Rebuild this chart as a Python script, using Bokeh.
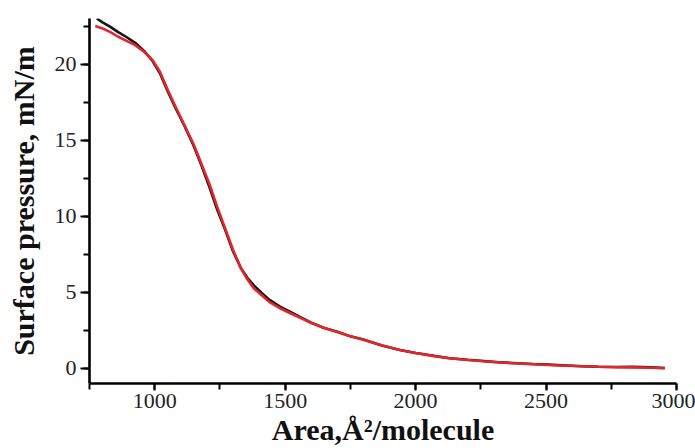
from bokeh.plotting import figure
from bokeh.models import Range1d, SingleIntervalTicker
from bokeh.embed import file_html
from bokeh.resources import INLINE

# --- data ---
area_black = [778, 800, 830, 860, 890, 925, 960, 990, 1020, 1050, 1080, 1115, 1150,
              1180, 1210, 1240, 1270, 1300, 1330, 1355, 1380, 1410, 1440, 1480, 1520,
              1560, 1600, 1650, 1700, 1750, 1800, 1870, 1940, 2000, 2070, 2130, 2200,
              2260, 2320, 2390, 2450, 2510, 2580, 2640, 2700, 2770, 2830, 2900, 2955]
pressure_black = [23.0, 22.75, 22.45, 22.1, 21.8, 21.4, 20.85, 20.25, 19.4, 18.2, 17.1,
                  15.9, 14.6, 13.3, 11.9, 10.4, 9.1, 7.7, 6.6, 5.95, 5.45, 4.95, 4.5,
                  4.05, 3.7, 3.35, 3.0, 2.65, 2.4, 2.1, 1.9, 1.5, 1.2, 1.0, 0.82, 0.66,
                  0.56, 0.48, 0.4, 0.33, 0.28, 0.24, 0.18, 0.13, 0.1, 0.08, 0.1, 0.06, 0.02]

area_red = [772, 800, 830, 860, 890, 925, 960, 990, 1020, 1050, 1080, 1115, 1150,
            1180, 1210, 1240, 1270, 1300, 1330, 1355, 1380, 1410, 1440, 1480, 1520,
            1560, 1600, 1650, 1700, 1750, 1800, 1870, 1940, 2000, 2070, 2130, 2200,
            2260, 2320, 2390, 2450, 2510, 2580, 2640, 2700, 2770, 2830, 2900, 2955]
pressure_red = [22.5, 22.35, 22.1, 21.8, 21.55, 21.25, 20.8, 20.3, 19.5, 18.3, 17.2,
                15.95, 14.7, 13.4, 12.1, 10.6, 9.2, 7.8, 6.6, 5.85, 5.25, 4.8, 4.35,
                3.95, 3.62, 3.3, 2.98, 2.65, 2.38, 2.1, 1.88, 1.52, 1.2, 1.0, 0.8, 0.66,
                0.55, 0.46, 0.38, 0.32, 0.27, 0.22, 0.17, 0.13, 0.1, 0.07, 0.06, 0.04, 0.0]

x_label = "Area,Å²/molecule"
y_label = "Surface pressure, mN/m"

FONT = "Liberation Serif"

p = figure(width=695, height=448, output_backend="svg", toolbar_location=None,
           x_range=Range1d(750, 3000), y_range=Range1d(-1, 23),
           min_border_left=89, min_border_right=19, min_border_top=18,
           min_border_bottom=65)
p.outline_line_color = None
p.xgrid.visible = False
p.ygrid.visible = False
p.background_fill_color = "white"
p.border_fill_color = "white"

p.line(area_black, pressure_black, line_color="#151515", line_width=2.6)
p.line(area_red, pressure_red, line_color="#e3262b", line_width=2.6)

p.xaxis.ticker = SingleIntervalTicker(interval=500, num_minor_ticks=2)
p.yaxis.ticker = SingleIntervalTicker(interval=5, num_minor_ticks=2)

for ax in (p.xaxis, p.yaxis):
    ax.axis_line_width = 2.6
    ax.axis_line_color = "black"
    ax.major_tick_line_width = 2
    ax.minor_tick_line_width = 2
    ax.major_tick_line_color = "black"
    ax.minor_tick_line_color = "black"
    ax.major_tick_in = 0
    ax.minor_tick_in = 0
    ax.major_label_text_font = FONT
    ax.major_label_text_font_size = "22px"
    ax.major_label_text_color = "#222222"
    ax.axis_label_text_font = FONT
    ax.axis_label_text_font_style = "bold"
    ax.axis_label_text_color = "#111111"

p.xaxis.major_tick_out = 7
p.xaxis.minor_tick_out = 6
p.xaxis.major_label_standoff = 3
p.xaxis.axis_label = x_label
p.xaxis.axis_label_text_font_size = "30px"
p.xaxis.axis_label_standoff = 2

p.yaxis.major_tick_out = 9
p.yaxis.minor_tick_out = 6
p.yaxis.major_label_standoff = 4
p.yaxis.axis_label = y_label
p.yaxis.axis_label_text_font_size = "30px"
p.yaxis.axis_label_standoff = 12

open("out.html", "w").write(file_html(p, INLINE))
